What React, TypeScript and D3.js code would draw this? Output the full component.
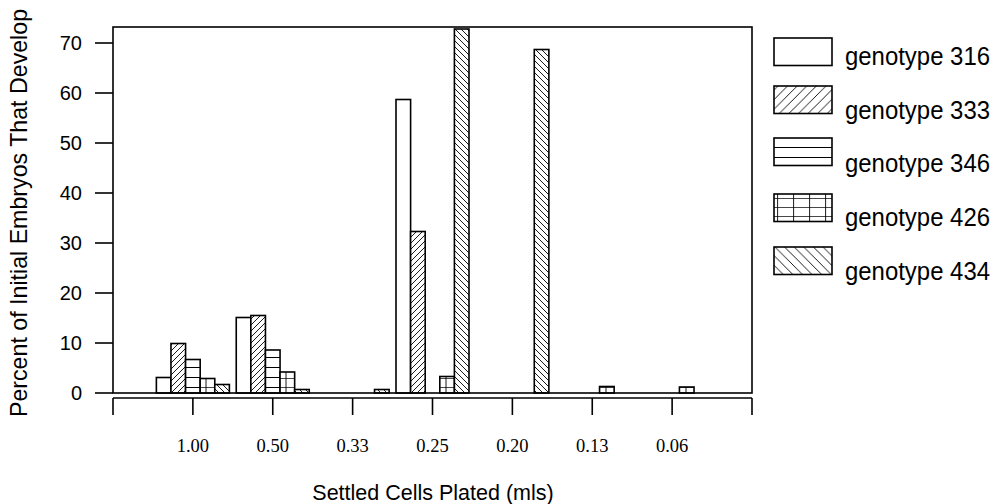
import React from "react";
import * as d3 from "d3";

// Settled-cell densities on the x axis (mls plated)
const densities = ["1.00", "0.50", "0.33", "0.25", "0.20", "0.13", "0.06"];

// Series names, in legend order
const genotypes = ["genotype 316", "genotype 333", "genotype 346", "genotype 426", "genotype 434"];

// Percent of initial embryos that develop, per density
const g316 = [3.1, 15.1, 0, 58.7, 0, 0, 0];
const g333 = [9.9, 15.5, 0, 32.3, 0, 0, 0];
const g346 = [6.7, 8.6, 0, 0, 0, 0, 0];
const g426 = [2.9, 4.2, 0, 3.3, 0, 1.3, 1.2];
const g434 = [1.7, 0.7, 0.7, 72.8, 68.7, 0, 0];

const yTicks = [0, 10, 20, 30, 40, 50, 60, 70];

const seriesValues = [g316, g333, g346, g426, g434];

const W = 1002;
const H = 504;
const left = 113;
const right = 752;
const top = 27;
const bottom = 393;
const axisY = 398;

const SANS = "'Liberation Sans', Arial, Helvetica, sans-serif";
const SERIF = "'Liberation Serif', 'Times New Roman', serif";
const NARROW = "'Liberation Sans Narrow', 'Arial Narrow', 'Liberation Sans', Arial, sans-serif";

// Fill patterns for each genotype; s widens the hatch for the legend swatches
function Patterns({ prefix, s }: { prefix: string; s: number }) {
  const d = 6 * s;
  const hx = 10 * s;
  return (
    <>
      <pattern id={`${prefix}-0`} patternUnits="userSpaceOnUse" width={10} height={10}>
        <rect width={10} height={10} fill="white" />
      </pattern>
      <pattern id={`${prefix}-1`} patternUnits="userSpaceOnUse" width={d} height={d}>
        <rect width={d} height={d} fill="white" />
        <path
          d={`M0,${d} L${d},0 M${-d / 2},${d / 2} L${d / 2},${-d / 2} M${d / 2},${d * 1.5} L${d * 1.5},${d / 2}`}
          stroke="black"
          strokeWidth={0.9}
        />
      </pattern>
      <pattern id={`${prefix}-2`} patternUnits="userSpaceOnUse" width={10} height={10}>
        <rect width={10} height={10} fill="white" />
        <path d="M0,7.5 H10" stroke="black" strokeWidth={1} />
      </pattern>
      <pattern id={`${prefix}-3`} patternUnits="userSpaceOnUse" width={hx} height={9}>
        <rect width={hx} height={9} fill="white" />
        <path d={`M0,0.3 H${hx} M${hx * 0.6},0 V9`} stroke="black" strokeWidth={0.9} />
      </pattern>
      <pattern id={`${prefix}-4`} patternUnits="userSpaceOnUse" width={d} height={d}>
        <rect width={d} height={d} fill="white" />
        <path
          d={`M0,0 L${d},${d} M${-d / 2},${d / 2} L${d / 2},${d * 1.5} M${d / 2},${-d / 2} L${d * 1.5},${d / 2}`}
          stroke="black"
          strokeWidth={0.9}
        />
      </pattern>
    </>
  );
}

export default function App() {
  const x = d3.scaleLinear().domain([0, densities.length + 1]).range([left, right]);
  const y = d3.scaleLinear().domain([0, 73.2]).range([bottom, top]);
  const inner = d3.scaleBand<string>().domain(genotypes).range([-36.5, 36.5]).padding(0);
  const bw = inner.bandwidth();

  const legendTops = [38, 86, 138, 194, 247];

  return (
    <svg
      width={W}
      height={H}
      viewBox={`0 0 ${W} ${H}`}
      style={{ position: "absolute", left: 0, top: 0, background: "white" }}
    >
      <defs>
        <Patterns prefix="bar" s={1} />
        <Patterns prefix="key" s={1.6} />
      </defs>
      <rect width={W} height={H} fill="white" />

      {/* bars */}
      {seriesValues.map((vals, si) =>
        vals.map((v, i) =>
          v > 0 ? (
            <rect
              key={`${si}-${i}`}
              x={x(i + 1) + (inner(genotypes[si]) as number)}
              y={y(v)}
              width={bw}
              height={y(0) - y(v)}
              fill={`url(#bar-${si})`}
              stroke="black"
              strokeWidth={1.6}
            />
          ) : null
        )
      )}

      {/* plot frame */}
      <rect
        x={left}
        y={top}
        width={right - left}
        height={bottom - top}
        fill="none"
        stroke="black"
        strokeWidth={1.6}
      />

      {/* y axis ticks and labels */}
      {yTicks.map((t) => (
        <g key={t}>
          <line x1={95} x2={left} y1={y(t)} y2={y(t)} stroke="black" strokeWidth={1.6} />
          <text
            x={82}
            y={y(t)}
            dy="0.36em"
            textAnchor="end"
            fontFamily={SANS}
            fontSize={20}
            fill="black"
          >
            {t}
          </text>
        </g>
      ))}
      <text
        transform={`translate(27,${213}) rotate(-90)`}
        textAnchor="middle"
        fontFamily={SANS}
        fontSize={23.2}
        fill="black"
      >
        Percent of Initial Embryos That Develop
      </text>

      {/* x axis */}
      <line x1={left} x2={right} y1={axisY} y2={axisY} stroke="black" strokeWidth={1.6} />
      {d3.range(0, densities.length + 2).map((k) => (
        <line
          key={k}
          x1={x(k)}
          x2={x(k)}
          y1={axisY}
          y2={415}
          stroke="black"
          strokeWidth={1.6}
        />
      ))}
      {densities.map((d, i) => (
        <text
          key={d}
          x={x(i + 1)}
          y={452}
          textAnchor="middle"
          fontFamily={SERIF}
          fontSize={18.5}
          fill="black"
        >
          {d}
        </text>
      ))}
      <text
        x={433}
        y={500}
        textAnchor="middle"
        fontFamily={SANS}
        fontSize={21.5}
        fill="black"
      >
        Settled Cells Plated (mls)
      </text>

      {/* legend */}
      {genotypes.map((g, i) => (
        <g key={g}>
          <rect
            x={774}
            y={legendTops[i]}
            width={58}
            height={27.5}
            fill={`url(#key-${i})`}
            stroke="black"
            strokeWidth={1.6}
          />
          <text
            x={845}
            y={65 + 53.7 * i}
            fontFamily={NARROW}
            fontSize={26}
            textLength={145}
            lengthAdjust="spacingAndGlyphs"
            fill="black"
          >
            {g}
          </text>
        </g>
      ))}
    </svg>
  );
}
